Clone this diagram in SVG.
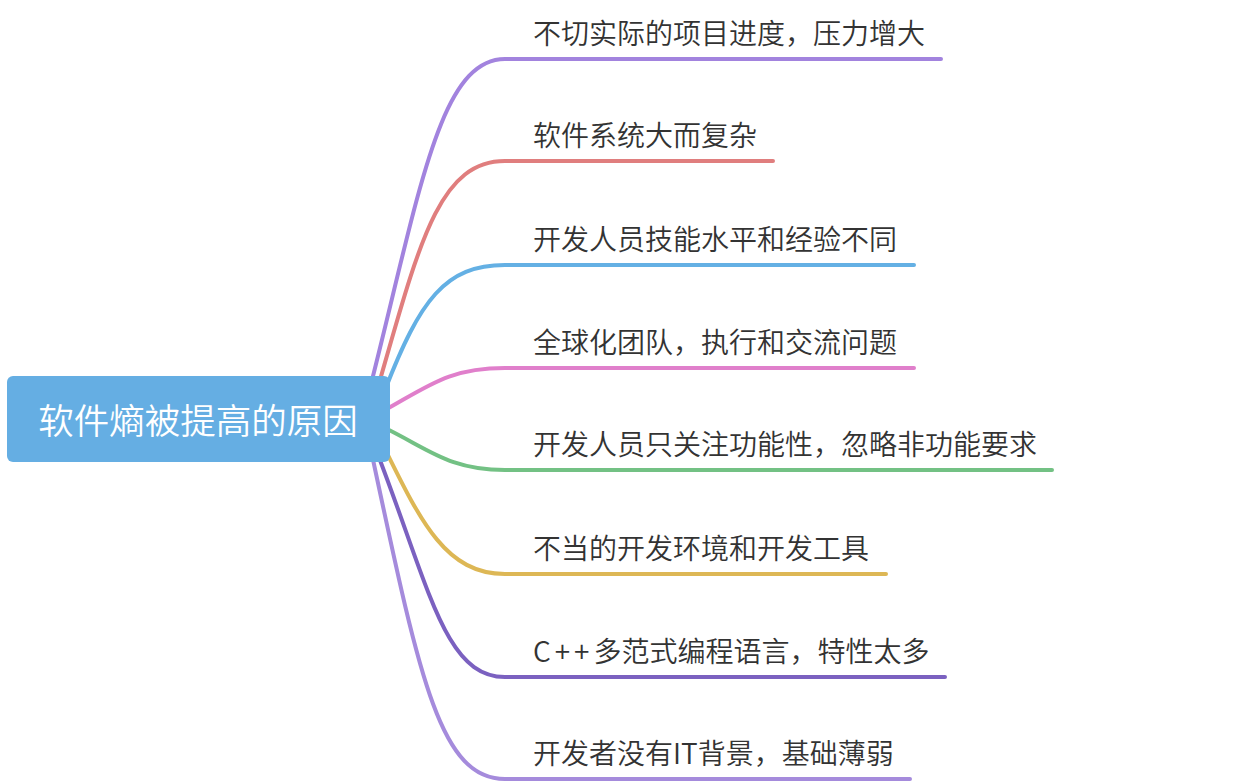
<svg xmlns="http://www.w3.org/2000/svg" width="1244" height="784" viewBox="0 0 1244 784">
<style>
.c{fill:none;stroke-width:4;stroke-linecap:round;stroke-linejoin:round}
.t{font-family:"Microsoft YaHei","Noto Sans CJK SC","Noto Sans",sans-serif;font-size:28px;font-weight:350;fill:#333333}
.r{font-family:"Microsoft YaHei","Noto Sans CJK SC","Noto Sans",sans-serif;font-size:35.5px;font-weight:350;fill:#ffffff;text-anchor:middle}
</style>
<rect width="1244" height="784" fill="#ffffff"/>
<g id="connectors">
<path class="c" stroke="#A283DE" d="M372,380 C420,190 440,59 505,59 L941,59"/>
<path class="c" stroke="#E07E7E" d="M380,380 C420,240 440,161 505,161 L773,161"/>
<path class="c" stroke="#64B0E4" d="M385,390 C420,300 445,265 505,265 L914,265"/>
<path class="c" stroke="#E07FCB" d="M385,410 C430,385 450,368 505,368 L914,368"/>
<path class="c" stroke="#73C184" d="M385,428 C430,450 450,470 505,470 L1052,470"/>
<path class="c" stroke="#DDB755" d="M383,445 C420,520 445,574 505,574 L886,574"/>
<path class="c" stroke="#7B61C0" d="M378,455 C430,590 445,677 505,677 L945,677"/>
<path class="c" stroke="#A58BDC" d="M372,455 C420,680 440,779 505,779 L910,779"/>
</g>
<g id="root">
<rect x="7" y="376" width="383" height="86" rx="6" fill="#65AEE3"/>
<text class="r" x="198" y="434">软件熵被提高的原因</text>
</g>
<g id="n1"><text class="t" x="533" y="44">不切实际的项目进度，压力增大</text></g>
<g id="n2"><text class="t" x="533" y="146">软件系统大而复杂</text></g>
<g id="n3"><text class="t" x="533" y="250">开发人员技能水平和经验不同</text></g>
<g id="n4"><text class="t" x="533" y="353">全球化团队，执行和交流问题</text></g>
<g id="n5"><text class="t" x="533" y="455">开发人员只关注功能性，忽略非功能要求</text></g>
<g id="n6"><text class="t" x="533" y="559">不当的开发环境和开发工具</text></g>
<g id="n7"><text class="t" x="533" y="662"><tspan letter-spacing="4">C++</tspan>多范式编程语言，特性太多</text></g>
<g id="n8"><text class="t" x="533" y="764">开发者没有IT背景，基础薄弱</text></g>
</svg>
